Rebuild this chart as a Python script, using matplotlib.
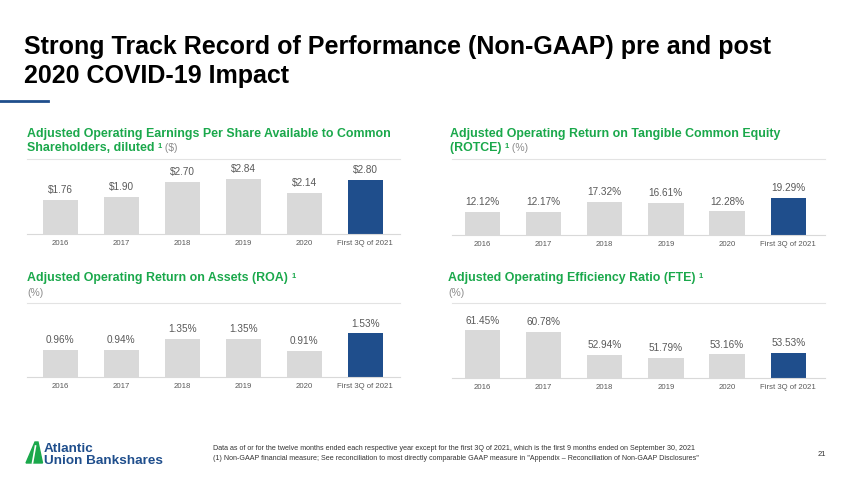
import matplotlib
matplotlib.use('Agg')
import matplotlib.pyplot as plt
from matplotlib.patches import Polygon
from matplotlib.lines import Line2D

W, H = 850, 478

# dados
anos = ['2016', '2017', '2018', '2019', '2020', 'First 3Q of 2021']
eps = [1.76, 1.90, 2.70, 2.84, 2.14, 2.80]
rotce = [12.12, 12.17, 17.32, 16.61, 12.28, 19.29]
roa = [0.96, 0.94, 1.35, 1.35, 0.91, 1.53]
eficiencia = [61.45, 60.78, 52.94, 51.79, 53.16, 53.53]

cinza_barra = '#d9d9d9'
azul = '#1f4e8c'
verde = '#1aa84b'
cinza_txt = '#595959'

plt.rcParams['font.family'] = ['Liberation Sans', 'DejaVu Sans']

fig = plt.figure(figsize=(W / 100, H / 100), dpi=100)
fig.patch.set_facecolor('white')
renderer = fig.canvas.get_renderer()


def fx(x):
    return x / W


def fy(y):
    return 1 - y / H


def texto_rico(x, y, partes):
    # escreve pedaços de texto em sequência na mesma linha (dy sobe o pedaço)
    for txt, kw, dy in partes:
        t = fig.text(fx(x), fy(y - dy), txt, va='baseline', ha='left', **kw)
        bb = t.get_window_extent(renderer)
        x = bb.x1


def painel(x0, x1, ybase, ytopo, valores, ylim, xlim, fmt):
    ax = fig.add_axes([fx(x0), fy(ybase), (x1 - x0) / W, (ybase - ytopo) / H])
    cores = [cinza_barra] * 5 + [azul]
    pos = range(len(valores))
    ax.bar(pos, [v - ylim[0] for v in valores], bottom=ylim[0], width=0.58, color=cores)
    ax.set_ylim(*ylim)
    ax.set_xlim(*xlim)
    for p, v in zip(pos, valores):
        ax.annotate(fmt.format(v), (p, v), xytext=(0, 3.5), textcoords='offset points',
                    ha='center', va='bottom', fontsize=7.2, color=cinza_txt)
    ax.set_xticks(list(pos))
    ax.set_xticklabels(anos, fontsize=5.6, color=cinza_txt)
    ax.tick_params(axis='x', length=0, pad=4)
    ax.set_yticks([])
    for s in ['left', 'right']:
        ax.spines[s].set_visible(False)
    ax.spines['bottom'].set_color('#d9d9d9')
    ax.spines['bottom'].set_linewidth(0.8)
    ax.spines['top'].set_color('#e3e3e3')
    ax.spines['top'].set_linewidth(0.8)
    ax.patch.set_alpha(0)
    return ax


painel(27, 400, 234, 159, eps, (0, 3.87), (-0.545, 5.57), '${:.2f}')
painel(452, 825, 235, 159, rotce, (0, 39.5), (-0.495, 5.6), '{:.2f}%')
painel(27, 400, 377, 303, roa, (0, 2.6), (-0.545, 5.57), '{:.2f}%')
painel(452, 825, 378, 303, eficiencia, (45, 70.9), (-0.495, 5.6), '{:.2f}%')

# titulo
fig.text(fx(24), fy(54), 'Strong Track Record of Performance (Non-GAAP) pre and post',
         fontsize=18, fontweight='bold', color='black', va='baseline')
fig.text(fx(24), fy(83), '2020 COVID-19 Impact',
         fontsize=18, fontweight='bold', color='black', va='baseline')
fig.add_artist(Line2D([0, fx(48)], [fy(101), fy(101)], color=azul, lw=2))

# titulos dos paineis
tb = dict(fontsize=8.9, fontweight='bold', color=verde)
sup = dict(fontsize=5.5, fontweight='bold', color=verde)
un = dict(fontsize=7.5, color='#8c8c8c')
texto_rico(27, 137, [('Adjusted Operating Earnings Per Share Available to Common', tb, 0)])
texto_rico(27, 151, [('Shareholders, diluted ', tb, 0), ('1', sup, 3.5), (' ($)', un, 0)])
texto_rico(450, 137, [('Adjusted Operating Return on Tangible Common Equity', tb, 0)])
texto_rico(450, 151, [('(ROTCE) ', tb, 0), ('1', sup, 3.5), (' (%)', un, 0)])
texto_rico(27, 281, [('Adjusted Operating Return on Assets (ROA) ', tb, 0), ('1', sup, 3.5)])
texto_rico(27, 296, [('(%)', un, 0)])
texto_rico(448, 281, [('Adjusted Operating Efficiency Ratio (FTE) ', tb, 0), ('1', sup, 3.5)])
texto_rico(448, 296, [('(%)', un, 0)])

# rodape
fig.text(fx(213), fy(449.5), 'Data as of or for the twelve months ended each respective year except for the first 3Q of 2021, '
         'which is the first 9 months ended on September 30, 2021', fontsize=5.15, color='#333333', va='baseline')
fig.text(fx(213), fy(459.5), '(1) Non-GAAP financial measure; See reconciliation to most directly comparable GAAP measure in '
         '"Appendix \u2013 Reconciliation of Non-GAAP Disclosures"', fontsize=5.15, color='#333333', va='baseline')
fig.text(fx(818), fy(456), '21', fontsize=5.5, color='#333333', va='baseline')

# logo
fig.add_artist(Polygon([(fx(26), fy(463)), (fx(35), fy(442)), (fx(38), fy(442)), (fx(42.5), fy(463))],
                       closed=True, color=verde, transform=fig.transFigure))
fig.add_artist(Line2D([fx(35.5), fx(32.5)], [fy(446), fy(463)], color='white', lw=1.2))
fig.text(fx(44), fy(452.5), 'Atlantic', fontsize=9.7, fontweight='heavy', color=azul, va='baseline')
fig.text(fx(44), fy(463.5), 'Union Bankshares', fontsize=9.7, fontweight='heavy', color=azul, va='baseline')

fig.savefig('out.png', dpi=100)
